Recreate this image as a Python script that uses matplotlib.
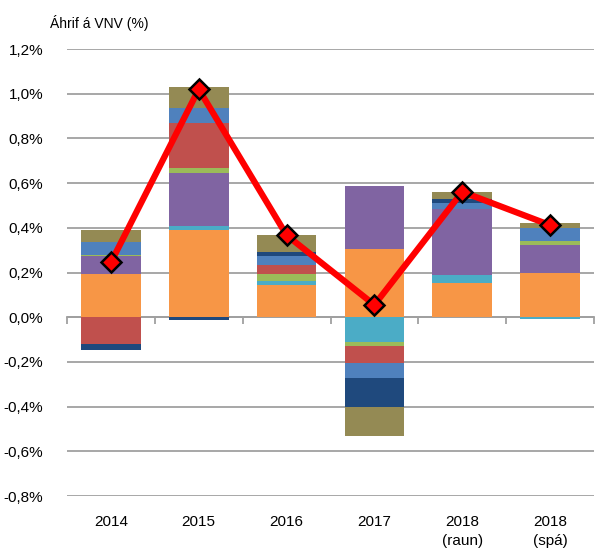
import matplotlib.pyplot as plt
import matplotlib.transforms as mtransforms
import numpy as np

plt.rcParams['font.family'] = ['Liberation Sans', 'DejaVu Sans']

categories = ['2014', '2015', '2016', '2017', '2018\n(raun)', '2018\n(spá)']

# component contributions (percentage points), bottom-up stack order
orange = [0.192, 0.389, 0.146, 0.304, 0.151, 0.198]
cyan = [0.0, 0.018, 0.015, -0.110, 0.038, -0.010]
purple = [0.081, 0.238, 0.0, 0.283, 0.293, 0.123]
green = [0.004, 0.022, 0.031, -0.018, 0.0, 0.019]
red = [-0.121, 0.203, 0.043, -0.079, 0.0, 0.0]
blue = [0.060, 0.065, 0.038, -0.064, 0.030, 0.060]
navy = [-0.024, -0.012, 0.018, -0.130, 0.018, 0.0]
olive = [0.052, 0.097, 0.075, -0.131, 0.031, 0.022]

total = [0.245, 1.020, 0.367, 0.055, 0.561, 0.412]

series = [orange, cyan, purple, green, red, blue, navy, olive]
colors = ['#F79646', '#4BACC6', '#8064A2', '#9BBB59', '#C0504D', '#4F81BD', '#1F497D', '#948A54']

fig = plt.figure(figsize=(6.09, 5.52), dpi=100)
ax = fig.add_axes([67 / 609, 56 / 552, 527 / 609, 447 / 552])

x = np.arange(len(categories))
pos_base = np.zeros(len(categories))
neg_base = np.zeros(len(categories))
for vals, col in zip(series, colors):
    v = np.array(vals)
    bottoms = np.where(v >= 0, pos_base, neg_base)
    ax.bar(x, v, width=0.68, bottom=bottoms, color=col, linewidth=0, zorder=2)
    pos_base += np.where(v >= 0, v, 0)
    neg_base += np.where(v < 0, v, 0)

ax.plot(x, total, color='#FF0000', linewidth=4.5, marker='D', markersize=10,
        markerfacecolor='#FF0000', markeredgecolor='black', markeredgewidth=1.8, zorder=4)

ax.set_xlim(-0.5, len(categories) - 0.5)
ax.set_ylim(-0.8, 1.2)
yt = np.arange(-0.8, 1.21, 0.2)
ax.set_yticks(yt)
ax.set_yticklabels([('%.1f%%' % v).replace('.', ',').replace('-0,0', '0,0') for v in yt], fontsize=11)
ax.tick_params(axis='y', length=0, pad=17)
ax.yaxis.grid(True, color='#A0A0A0', linewidth=1.3, zorder=0)
ax.set_axisbelow(True)

for s in ['left', 'right', 'top']:
    ax.spines[s].set_visible(False)
ax.spines['bottom'].set_position(('data', 0))
ax.spines['bottom'].set_color('#A0A0A0')
ax.spines['bottom'].set_linewidth(1.3)
ax.spines['bottom'].set_zorder(1)
ax.set_xticks(x)
ax.set_xticklabels([])
ax.tick_params(axis='x', which='major', length=0)
ax.set_xticks(np.arange(len(categories) + 1) - 0.5, minor=True)
ax.tick_params(axis='x', which='minor', length=5, width=1.3, color='#A0A0A0', direction='out')

trans = mtransforms.blended_transform_factory(ax.transData, ax.transAxes)
for xi, lab in zip(x, categories):
    ax.text(xi, -0.043, lab, transform=trans, ha='center', va='top', fontsize=11, linespacing=1.45)

fig.text(50 / 609, 1 - 23 / 552, 'Áhrif á VNV (%)', fontsize=10, ha='left', va='center')

fig.savefig('out.png', dpi=100)
